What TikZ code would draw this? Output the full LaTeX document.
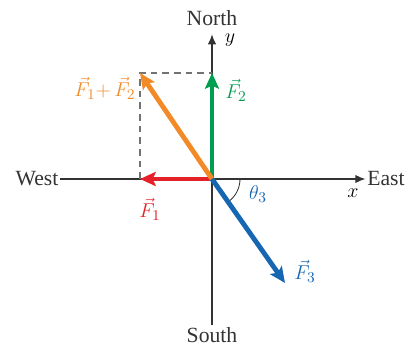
\documentclass[tikz,border=0pt]{standalone}
\usepackage{amsmath}
\usepackage{fontspec}
\setmainfont{Liberation Serif}
\usepackage{tikz}
\usetikzlibrary{arrows.meta,positioning}

\definecolor{fred}{RGB}{228,32,40}
\definecolor{fgreen}{RGB}{0,158,80}
\definecolor{forange}{RGB}{242,138,40}
\definecolor{fblue}{RGB}{22,102,178}

\begin{document}
\begin{tikzpicture}[>=Latex,x=0.6pt,y=0.6pt,font=\fontsize{13}{15}\selectfont]
\useasboundingbox (-212,-169) rectangle (198,179);
\tikzset{axis/.style={draw=black!80,line width=0.7pt},
  force/.style={line width=2.9pt,-{Stealth[length=9.5pt,width=8.5pt,inset=2pt]}},
  lbl/.style={inner sep=1pt}}
\coordinate (o) at (0,0);
\coordinate (t1) at (-72,0);
\coordinate (t2) at (0,106);
\coordinate (t12) at (-72,106);
\coordinate (t3) at (73,-104);
\node[lbl,text=black!80] (west) at (-175,0) {West};
\node[lbl,text=black!80] (east) at (174,0) {East};
\node[lbl,text=black!80] (north) at (0,161) {North};
\node[lbl,text=black!80] (south) at (0,-156) {South};
\node[lbl] (xl) at (141,-14) {$x$};
\node[lbl] (yl) at (18,139) {$y$};
\draw[axis,-{Latex[length=6pt,width=5pt]}] (west.east)--(east.west);
\draw[axis,-{Latex[length=6pt,width=5pt]}] (south.north)--([yshift=-4pt]north.south);
\draw[black!55,line width=1pt,dash pattern=on 4pt off 3pt] (t1)--(t12)--(t2);
\draw[black!80,line width=0.5pt] (28,0) arc[start angle=0,end angle=-55,radius=28];
\draw[force,fred] (o)--(t1);
\draw[force,fgreen] (o)--(t2);
\draw[force,forange] (o)--(t12);
\draw[force,fblue] (o)--(t3);
\node[lbl,text=fred] (f1) at (-62,-30) {$\vec{F}_1$};
\node[lbl,text=fgreen] (f2) at (24,89) {$\vec{F}_2$};
\node[lbl,text=forange] (f12) at (-107,91) {$\vec{F}_1{+}\,\vec{F}_2$};
\node[lbl,text=fblue] (f3) at (93,-92) {$\vec{F}_3$};
\node[lbl,text=fblue] (th) at (46,-15) {$\theta_3$};
\end{tikzpicture}
\end{document}
